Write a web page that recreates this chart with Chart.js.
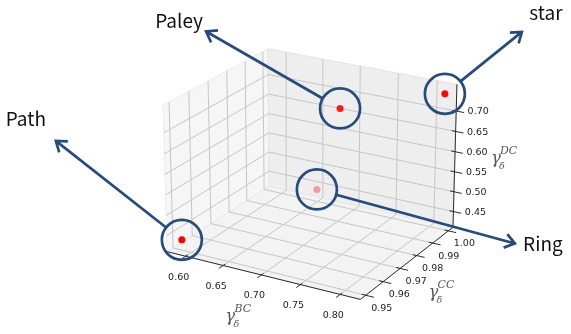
<!DOCTYPE html>
<html>
<head>
<meta charset="utf-8">
<script src="https://cdn.jsdelivr.net/npm/chart.js@4.4.1/dist/chart.umd.min.js"></script>
<style>
  html, body { margin: 0; padding: 0; background: #fff; overflow: hidden; }
  #myChart { display: block; }
</style>
</head>
<body>
<canvas id="myChart" width="571" height="334"></canvas>
<script>
// values
var graphNames = ['Path', 'Ring', 'Paley', 'star'];
var gammaBC = [0.590, 0.649, 0.707, 0.816];
var gammaCC = [0.949, 1.000, 0.988, 1.000];
var gammaDC = [0.440, 0.441, 0.701, 0.746];

// tick labels
var xTicks = [0.60, 0.65, 0.70, 0.75, 0.80];
var yTicks = [0.95, 0.96, 0.97, 0.98, 0.99, 1.00];
var zTicks = [0.45, 0.50, 0.55, 0.60, 0.65, 0.70];

// axis limits of the 3d box
var xLim = [0.575, 0.825];
var yLim = [0.947, 1.003];
var zLim = [0.410, 0.765];

// view of the 3d box (camera like matplotlib mplot3d)
var view = { elev: 22, azim: -60, dist: 40, cx: 312, cy: 168, scale: 52, half: [2.12, 1.9, 1.5] };

// callouts: arrow tip offset from the point, text offset from the tip
var calloutTip = [[-126, -99], [198, 54], [-134, -77], [77, -62]];
var calloutText = [[-30, -22], [28, 0], [-27, -11], [24, -19]];
var circleR = 20;
var navy = '#264b7c';

function project(x, y, z) {
    var X = ((x - xLim[0]) / (xLim[1] - xLim[0]) - 0.5) * 2 * view.half[0];
    var Y = ((y - yLim[0]) / (yLim[1] - yLim[0]) - 0.5) * 2 * view.half[1];
    var Z = ((z - zLim[0]) / (zLim[1] - zLim[0]) - 0.5) * 2 * view.half[2];
    var e = view.elev * Math.PI / 180, a = view.azim * Math.PI / 180;
    var r = -X * Math.sin(a) + Y * Math.cos(a);
    var u = -X * Math.sin(e) * Math.cos(a) - Y * Math.sin(e) * Math.sin(a) + Z * Math.cos(e);
    var d = X * Math.cos(e) * Math.cos(a) + Y * Math.cos(e) * Math.sin(a) + Z * Math.sin(e);
    var k = view.dist / (view.dist - d);
    return { x: view.cx + view.scale * r * k, y: view.cy - view.scale * u * k, depth: d };
}
function P(x, y, z) { var p = project(x, y, z); return { x: p.x, y: p.y }; }
var GAP = { x: null, y: null };
function seg(list, a, b) { list.push(P(a[0], a[1], a[2]), P(b[0], b[1], b[2]), GAP); }

var x0 = xLim[0], x1 = xLim[1], y0 = yLim[0], y1 = yLim[1], z0 = zLim[0], z1 = zLim[1];

// panes
var floorPane = [P(x0, y0, z0), P(x1, y0, z0), P(x1, y1, z0), P(x0, y1, z0), P(x0, y0, z0)];
var leftPane = [P(x0, y0, z0), P(x0, y1, z0), P(x0, y1, z1), P(x0, y0, z1), P(x0, y0, z0)];
var backPane = [P(x0, y1, z0), P(x1, y1, z0), P(x1, y1, z1), P(x0, y1, z1), P(x0, y1, z0)];

// grid
var grid = [];
xTicks.forEach(function (t) { grid.push(P(t, y0, z0), P(t, y1, z0), P(t, y1, z1), GAP); });
yTicks.forEach(function (t) { grid.push(P(x1, t, z0), P(x0, t, z0), P(x0, t, z1), GAP); });
zTicks.forEach(function (t) { grid.push(P(x0, y0, t), P(x0, y1, t), P(x1, y1, t), GAP); });

// axis lines and tick marks
var axes = [];
seg(axes, [x0, y0, z0], [x1, y0, z0]);
seg(axes, [x1, y0, z0], [x1, y1, z0]);
seg(axes, [x1, y1, z0], [x1, y1, z1]);
var xr = x1 - x0, yr = y1 - y0;
xTicks.forEach(function (t) { seg(axes, [t, y0 - 0.04 * yr, z0], [t, y0 + 0.02 * yr, z0]); });
yTicks.forEach(function (t) { seg(axes, [x1 - 0.02 * xr, t, z0], [x1 + 0.04 * xr, t, z0]); });
zTicks.forEach(function (t) { seg(axes, [x1 - 0.02 * xr, y1, t], [x1 + 0.04 * xr, y1, t]); });

// points with depth shading
var pts = [], depths = [];
graphNames.forEach(function (n, i) {
    var p = project(gammaBC[i], gammaCC[i], gammaDC[i]);
    pts.push({ x: p.x, y: p.y });
    depths.push(p.depth);
});
var dMax = Math.max.apply(null, depths), dMin = Math.min.apply(null, depths);
var ptColors = depths.map(function (d) {
    var a = 1 - 0.65 * (dMax - d) / (dMax - dMin);
    return 'rgba(255,0,0,' + a.toFixed(2) + ')';
});

// arrows from circle edge to label
var arrows = [];
pts.forEach(function (c, i) {
    var tx = c.x + calloutTip[i][0], ty = c.y + calloutTip[i][1];
    var dx = tx - c.x, dy = ty - c.y, L = Math.hypot(dx, dy), ux = dx / L, uy = dy / L;
    arrows.push({ x: c.x + ux * circleR, y: c.y + uy * circleR }, { x: tx, y: ty }, GAP);
    var hl = 12, ha = 0.62, bx = -ux, by = -uy;
    var c1 = Math.cos(ha), s1 = Math.sin(ha);
    arrows.push(
        { x: tx + hl * (bx * c1 - by * s1), y: ty + hl * (bx * s1 + by * c1) },
        { x: tx, y: ty },
        { x: tx + hl * (bx * c1 + by * s1), y: ty + hl * (-bx * s1 + by * c1) },
        GAP
    );
});

function lineSet(data, color, width, order, extra) {
    var ds = {
        type: 'line', data: data, borderColor: color, borderWidth: width, order: order,
        pointRadius: 0, pointHoverRadius: 0, tension: 0, spanGaps: false, fill: false
    };
    for (var k in extra) ds[k] = extra[k];
    return ds;
}

// text labels
var labelPlugin = {
    id: 'labels3d',
    afterDatasetsDraw: function (chart) {
        var ctx = chart.ctx, sx = chart.scales.x, sy = chart.scales.y;
        function px(p) { return { x: sx.getPixelForValue(p.x), y: sy.getPixelForValue(p.y) }; }
        ctx.save();
        ctx.textAlign = 'center';
        ctx.textBaseline = 'middle';
        ctx.fillStyle = '#222';
        ctx.font = '9.5px "DejaVu Sans"';
        xTicks.forEach(function (t) {
            var p = px(P(t, y0, z0));
            ctx.fillText(t.toFixed(2), p.x - 7, p.y + 21);
        });
        yTicks.forEach(function (t) {
            var p = px(P(x1, t, z0));
            ctx.fillText(t.toFixed(2), p.x + 16, p.y + 13);
        });
        zTicks.forEach(function (t) {
            var p = px(P(x1, y1, t));
            ctx.fillText(t.toFixed(2), p.x + 22, p.y + 1);
        });

        function gamma(p, sup) {
            ctx.fillStyle = '#555';
            ctx.textAlign = 'center';
            ctx.font = 'italic 16px "DejaVu Serif"';
            ctx.fillText('\u03b3', p.x, p.y);
            ctx.textAlign = 'left';
            ctx.font = 'italic 9.5px "DejaVu Serif"';
            ctx.fillText('\u03b4', p.x + 3, p.y + 8);
            ctx.font = 'italic 11px "DejaVu Serif"';
            ctx.fillText(sup, p.x + 4, p.y - 8);
        }
        var mx = px(P((x0 + x1) / 2, y0, z0));
        gamma({ x: mx.x - 31, y: mx.y + 42 }, 'BC');
        var my = px(P(x1, (y0 + y1) / 2, z0));
        gamma({ x: my.x + 25, y: my.y + 31 }, 'CC');
        var mz = px(P(x1, y1, (z0 + z1) / 2));
        gamma({ x: mz.x + 41, y: mz.y + 2 }, 'DC');

        ctx.textAlign = 'center';
        ctx.fillStyle = '#111';
        ctx.font = '19px "Noto Sans CJK KR", "Noto Sans", sans-serif';
        pts.forEach(function (c, i) {
            var p = px(c);
            ctx.fillText(graphNames[i],
                p.x + calloutTip[i][0] + calloutText[i][0],
                p.y + calloutTip[i][1] + calloutText[i][1]);
        });
        ctx.restore();
    }
};

var ctx = document.getElementById('myChart').getContext('2d');
window.myChart = new Chart(ctx, {
    type: 'scatter',
    data: {
        datasets: [
            lineSet(leftPane, '#ececec', 1, 20, { fill: 'shape', backgroundColor: '#f6f6f6' }),
            lineSet(backPane, '#e4e4e4', 1, 19, { fill: 'shape', backgroundColor: '#eeeeee' }),
            lineSet(floorPane, '#e8e8e8', 1, 18, { fill: 'shape', backgroundColor: '#f3f3f3' }),
            lineSet(grid, '#c6c6c6', 1, 15),
            lineSet(axes, '#2a2a2a', 1, 12),
            {
                type: 'scatter', data: pts, order: 8,
                pointRadius: 3.5, pointHoverRadius: 3.5, pointBorderWidth: 0,
                pointBackgroundColor: ptColors, borderColor: ptColors
            },
            {
                type: 'scatter', data: pts, order: 5,
                pointRadius: circleR, pointHoverRadius: circleR, pointBorderWidth: 2.7,
                pointBackgroundColor: 'rgba(0,0,0,0)', pointBorderColor: navy, borderColor: navy
            },
            lineSet(arrows, navy, 2.7, 4, { borderJoinStyle: 'miter' })
        ]
    },
    options: {
        responsive: false,
        animation: false,
        events: [],
        layout: { padding: 0, autoPadding: false },
        plugins: { legend: { display: false }, tooltip: { enabled: false } },
        scales: {
            x: { type: 'linear', min: 0, max: 571, display: false },
            y: { type: 'linear', min: 0, max: 334, reverse: true, display: false }
        }
    },
    plugins: [labelPlugin]
});
</script>
</body>
</html>
